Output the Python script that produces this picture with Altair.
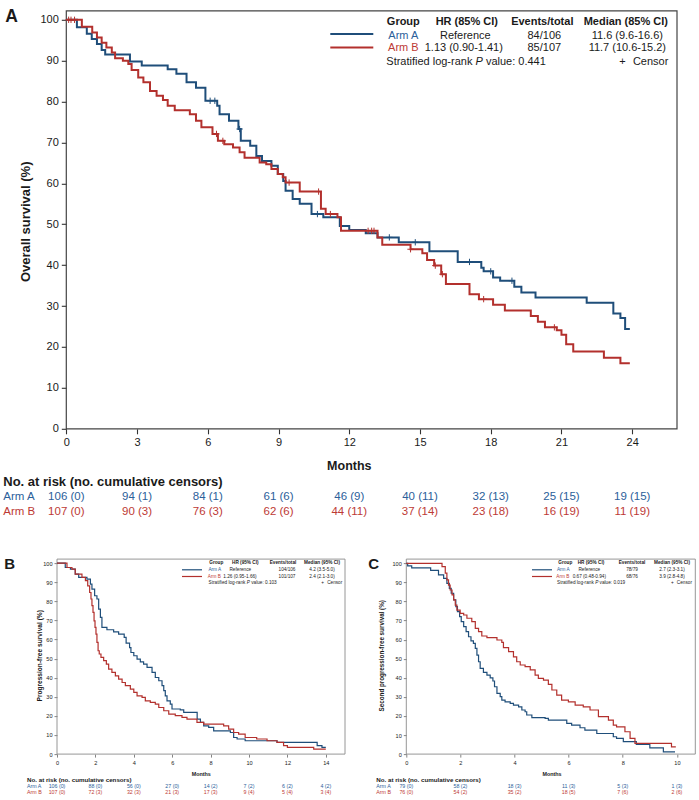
import altair as alt
import pandas as pd

FONT = "Liberation Sans"
BLUE, RED = "#1f4e7a", "#b3302d"
BLUE_T, RED_T = "#2b609a", "#bd3a35"
INK = "#1a1a1a"
CROSS = "M-1,0L1,0M0,-1L0,1"

# ---------------- Panel A: overall survival ----------------
os_a_t = [0, 0.45, 0.87, 1.08, 1.3, 1.5, 1.65, 2.7, 3.2, 4.3, 4.67, 5.1, 5.5, 5.9, 6.4, 6.5, 6.9, 7.3, 7.4, 7.8,
          8.06, 8.3, 8.7, 8.97, 9.2, 9.3, 9.6, 9.9, 10.4, 10.9, 11.6, 12.0, 12.7, 13.2, 14.1, 15.4, 16.6, 17.6, 17.7, 18.1,
          18.4, 19.0, 19.3, 19.9, 22.07, 23.2, 23.5, 23.7, 23.9]
os_a_s = [100, 98.2, 96.6, 95.3, 94.1, 92.6, 91.5, 89.8, 88.8, 87.9, 86.8, 84.7, 83.4, 80.2, 79.0, 76.9, 75.3, 73.3, 70.4, 69.2,
          66.7, 65.5, 64.3, 62.3, 60.6, 58.2, 56.2, 55.0, 52.5, 51.7, 49.6, 48.6, 47.8, 46.8, 45.6, 43.4, 40.8, 39.4, 38.5, 37.0,
          36.2, 34.7, 33.3, 32.1, 30.8, 28.2, 27.1, 24.4, 24.4]
os_b_t = [0, 0.66, 1.1, 1.3, 1.5, 1.7, 1.93, 2.07, 2.4, 2.63, 2.77, 3.05, 3.27, 3.55, 3.83, 4.1, 4.3, 4.6, 5.24, 5.5,
          5.73, 6.2, 6.43, 6.7, 7.07, 7.35, 7.56, 8.2, 8.48, 8.7, 8.97, 9.18, 9.3, 9.9, 10.8, 11.0, 11.5, 11.65, 13.2, 13.4,
          14.6, 15.1, 15.3, 15.6, 15.9, 16.1, 17.1, 17.5, 18.1, 18.6, 19.7, 20.0, 20.3, 20.8, 21.0, 21.2, 21.5, 22.8, 23.5, 23.9]
os_b_s = [100, 98.3, 96.9, 95.7, 94.4, 93.2, 92.0, 90.6, 90.0, 89.2, 87.7, 85.9, 84.7, 82.6, 81.4, 80.4, 79.0, 77.9, 76.9, 75.3,
          73.7, 72.1, 70.4, 69.6, 68.8, 67.6, 66.3, 65.1, 64.7, 63.5, 62.3, 61.5, 60.2, 58.0, 53.8, 52.5, 51.7, 48.4, 46.8, 45.0,
          43.9, 42.9, 41.3, 39.9, 37.8, 35.4, 32.9, 31.7, 30.3, 28.9, 27.6, 26.2, 24.8, 24.1, 23.0, 20.7, 18.9, 17.4, 16.0, 16.0]
os_cen_a_t = [6.1, 6.3, 7.35, 10.65, 13.7, 14.8, 17.1, 18.0, 18.9]
os_cen_a_s = [80.2, 80.2, 73.3, 52.5, 46.8, 45.6, 40.8, 38.5, 36.2]
os_cen_b_t = [0.1, 0.2, 0.35, 6.37, 6.64, 9.45, 10.7, 11.2, 12.8, 12.95, 13.05, 14.6, 15.65, 15.95, 17.7, 20.7]
os_cen_b_s = [100, 100, 100, 72.1, 70.4, 60.2, 58.0, 52.5, 48.4, 48.4, 48.4, 43.9, 39.9, 37.8, 31.7, 24.8]
os_risk_t = [0, 3, 6, 9, 12, 15, 18, 21, 24]
os_risk_a = ["106 (0)", "94 (1)", "84 (1)", "61 (6)", "46 (9)", "40 (11)", "32 (13)", "25 (15)", "19 (15)"]
os_risk_b = ["107 (0)", "90 (3)", "76 (3)", "62 (6)", "44 (11)", "37 (14)", "23 (18)", "16 (19)", "11 (19)"]
os_table = [["Group", "HR (85% CI)", "Events/total", "Median (85% CI)"],
            ["Arm A", "Reference", "84/106", "11.6 (9.6-16.6)"],
            ["Arm B", "1.13 (0.90-1.41)", "85/107", "11.7 (10.6-15.2)"]]
os_p = "0.441"

# ---------------- Panel B: progression-free survival ----------------
pfs_a_t = [0, 0.43, 0.7, 0.95, 1.13, 1.56, 1.74, 1.82, 1.96, 2.08, 2.17, 2.26, 2.34, 2.6, 2.95, 3.21, 3.5, 3.6, 3.78, 3.85,
           4.0, 4.17, 4.34, 4.51, 4.69, 4.95, 5.12, 5.3, 5.47, 5.56, 5.64, 5.73, 5.9, 5.99, 6.42, 6.6, 7.3, 7.47, 7.64, 7.9,
           8.16, 9.03, 9.2, 9.38, 9.8, 11.46, 13.55, 13.8, 14.0]
pfs_a_s = [100, 97.7, 96.9, 94.2, 92.5, 91.6, 89.0, 86.4, 82.9, 81.2, 75.9, 71.6, 66.3, 65.1, 64.0, 62.8, 61.1, 58.1, 55.8, 53.2,
           51.5, 49.7, 48.3, 47.1, 45.4, 42.8, 40.1, 38.4, 35.8, 33.2, 30.5, 27.9, 26.2, 23.6, 23.2, 21.8, 18.3, 16.6, 14.8, 14.0,
           12.2, 11.3, 8.7, 7.9, 7.0, 6.1, 4.4, 3.5, 3.5]
pfs_b_t = [0, 0.52, 0.78, 0.95, 1.3, 1.48, 1.6, 1.7, 1.77, 1.82, 1.875, 1.93, 1.98, 2.03, 2.08, 2.14, 2.2, 2.29, 2.43, 2.57,
           2.69, 2.86, 3.04, 3.21, 3.39, 3.56, 3.82, 4.0, 4.17, 4.43, 4.6, 4.86, 5.12, 5.3, 5.56, 5.82, 6.16, 6.51, 6.77, 7.29,
           7.64, 8.68, 8.94, 9.2, 9.46, 9.8, 10.4, 10.94, 11.46, 11.8, 12.0, 13.37, 14.0]
pfs_b_s = [100, 97.7, 96.9, 94.2, 92.5, 90.8, 88.1, 84.6, 81.2, 77.7, 74.2, 69.8, 66.3, 62.8, 58.5, 54.1, 52.4, 50.6, 48.9, 47.1,
           44.5, 42.8, 41.0, 39.3, 37.5, 35.8, 34.0, 32.3, 30.5, 29.7, 27.9, 27.1, 26.2, 24.4, 22.7, 20.9, 20.1, 19.2, 18.3, 16.6,
           15.7, 14.8, 13.1, 11.3, 10.5, 8.7, 7.9, 7.0, 6.1, 4.4, 3.5, 2.6, 2.6]
pfs_risk_t = [0, 2, 4, 6, 8, 10, 12, 14]
pfs_risk_a = ["106 (0)", "88 (0)", "56 (0)", "27 (0)", "14 (2)", "7 (2)", "6 (2)", "4 (2)"]
pfs_risk_b = ["107 (0)", "72 (3)", "32 (3)", "21 (3)", "17 (3)", "9 (4)", "5 (4)", "3 (4)"]
pfs_table = [["Group", "HR (95% CI)", "Events/total", "Median (95% CI)"],
             ["Arm A", "Reference", "104/106", "4.2 (3.5-5.0)"],
             ["Arm B", "1.26 (0.95-1.66)", "101/107", "2.4 (2.1-3.0)"]]
pfs_p = "0.103"

# ---------------- Panel C: second progression-free survival ----------------
pfs2_a_t = [0, 0.05, 0.2, 0.9, 1.19, 1.38, 1.5, 1.59, 1.66, 1.75, 1.83, 1.89, 1.97, 2.03, 2.12, 2.21, 2.3, 2.39, 2.48, 2.55,
            2.61, 2.67, 2.73, 2.85, 2.98, 3.1, 3.2, 3.26, 3.35, 3.47, 3.53, 3.65, 3.84, 3.96, 4.15, 4.27, 4.39, 4.45, 4.64, 5.13,
            5.25, 5.93, 6.11, 6.42, 6.6, 7.04, 7.65, 7.77, 8.02, 8.5, 9.0, 9.5, 9.93]
pfs2_a_s = [100, 98.7, 97.6, 96.3, 93.9, 92.1, 89.5, 86.9, 84.3, 80.8, 77.3, 74.7, 72.0, 69.4, 66.8, 64.2, 61.5, 59.3, 58.0, 55.4,
            51.9, 48.4, 44.9, 42.8, 41.4, 40.0, 38.3, 35.3, 31.8, 30.1, 28.3, 27.4, 26.6, 25.7, 24.8, 23.1, 22.2, 20.5, 19.1, 18.7,
            17.8, 16.1, 15.2, 13.8, 12.6, 10.8, 9.1, 8.2, 6.5, 5.1, 3.3, 1.2, 1.2]
pfs2_b_t = [0, 1.32, 1.44, 1.5, 1.56, 1.62, 1.69, 1.75, 1.81, 1.87, 1.99, 2.12, 2.24, 2.42, 2.55, 2.67, 2.79, 2.98, 3.35, 3.53,
            3.59, 3.78, 3.96, 4.08, 4.21, 4.39, 4.58, 4.76, 4.88, 5.07, 5.25, 5.38, 5.56, 5.74, 5.99, 6.24, 6.54, 6.79, 7.1, 7.47,
            7.65, 7.77, 8.08, 8.27, 8.45, 9.8, 9.96]
pfs2_b_s = [100, 98.3, 94.8, 91.3, 88.6, 86.0, 83.4, 80.8, 78.1, 75.5, 73.8, 72.9, 71.2, 69.4, 65.9, 64.2, 61.9, 61.0, 59.8, 58.6,
            55.8, 53.7, 51.0, 48.4, 46.7, 45.8, 44.1, 41.4, 39.7, 38.8, 36.5, 33.6, 30.9, 28.3, 27.4, 25.7, 24.8, 23.1, 19.6, 17.8,
            15.2, 14.3, 11.7, 8.2, 5.6, 3.8, 3.8]
pfs2_risk_t = [0, 2, 4, 6, 8, 10]
pfs2_risk_a = ["79 (0)", "58 (2)", "18 (3)", "11 (3)", "5 (3)", "1 (3)"]
pfs2_risk_b = ["76 (0)", "54 (2)", "35 (2)", "18 (5)", "7 (6)", "2 (6)"]
pfs2_table = [["Group", "HR (95% CI)", "Events/total", "Median (95% CI)"],
              ["Arm A", "Reference", "78/79", "2.7 (2.3-3.1)"],
              ["Arm B", "0.67 (0.48-0.94)", "68/76", "3.9 (2.8-4.8)"]]
pfs2_p = "0.019"

ONE = pd.DataFrame({"k": [0]})


def arms_df(ta, sa, tb, sb):
    return pd.DataFrame({"t": list(ta) + list(tb), "s": list(sa) + list(sb),
                         "arm": ["Arm A"] * len(ta) + ["Arm B"] * len(tb)})


def text_layer(s, x, y, size, color=INK, align="left", bold=False, italic=False, baseline="middle", angle=None):
    kw = dict(text=s, font=FONT, fontSize=size, color=color, align=align, baseline=baseline,
              fontWeight="bold" if bold else "normal", fontStyle="italic" if italic else "normal")
    if angle is not None:
        kw["angle"] = angle
    return alt.Chart(ONE).mark_text(**kw).encode(x=alt.value(x), y=alt.value(y))


def km_panel(p):
    ox, oy = p["origin"]
    W, H = p["size"]
    L = p["left"]

    def rx(v):
        return v - ox

    def ry(v):
        return v - oy

    xs = alt.Scale(domain=p["xdom"], nice=False, zero=False)
    ys = alt.Scale(domain=[0, p["ymax"]], nice=False)
    xaxis = alt.Axis(values=p["xticks"], title=None, domain=False, grid=False,
                     tickSize=p["tick"], tickColor=p["axc"], tickWidth=p["tickw"],
                     labelFont=FONT, labelFontSize=p["tickfont"], labelColor=INK,
                     labelPadding=p["xpad"], labelFlush=False, labelOverlap=False)
    yargs = dict(values=list(range(0, 101, 10)), title=None, domain=False, grid=False,
                 tickSize=p["tick"], tickColor=p["axc"], tickWidth=p["tickw"],
                 labelFont=FONT, labelFontSize=p["tickfont"], labelColor=INK,
                 labelPadding=p["ypad"], labelFlush=False, labelOverlap=False)
    if L > 0:
        yargs["offset"] = -L
    X = alt.X("t:Q", scale=xs, axis=xaxis)
    Y = alt.Y("s:Q", scale=ys, axis=alt.Axis(**yargs))
    COL = alt.Color("arm:N", scale=alt.Scale(domain=["Arm A", "Arm B"], range=[BLUE, RED]), legend=None)

    layers = []
    layers.append(alt.Chart(ONE).mark_rect(fillOpacity=0, stroke=p["framec"], strokeWidth=p["framew"]).encode(
        x=alt.value(L), x2=alt.value(W), y=alt.value(0), y2=alt.value(H)))
    layers.append(alt.Chart(p["curves"]).mark_line(interpolate="step-after", strokeWidth=p["lw"]).encode(
        x=X, y=Y, color=COL))
    if p.get("censors") is not None:
        layers.append(alt.Chart(p["censors"]).mark_point(shape=CROSS, filled=False, size=p["censize"],
                                                         strokeWidth=1, opacity=1).encode(x=X, y=Y, color=COL))

    # panel letter
    layers.append(text_layer(p["letter"], rx(p["letter_xy"][0]), ry(p["letter_xy"][1]), p["letter_size"],
                             bold=True, baseline="top"))
    # axis titles
    layers.append(text_layer(p["ytitle"], rx(p["ytitle_xy"][0]), ry(p["ytitle_xy"][1]), p["titlefont"],
                             bold=True, align="center", angle=270))
    layers.append(text_layer("Months", rx(p["xtitle_xy"][0]), ry(p["xtitle_xy"][1]), p["xtitlefont"],
                             bold=True, align="center"))

    # number at risk table
    rk = p["risk"]
    layers.append(text_layer("No. at risk (no. cumulative censors)", rx(rk["x"]), ry(rk["head_y"]),
                             rk["head_font"], bold=True))
    for lab, vals, yy, col in (("Arm A", p["risk_a"], rk["ya"], BLUE_T), ("Arm B", p["risk_b"], rk["yb"], RED_T)):
        df = pd.DataFrame({"t": p["risk_t"], "label": vals})
        layers.append(alt.Chart(df).mark_text(font=FONT, fontSize=rk["font"], color=col, align="center",
                                              baseline="middle").encode(x=X, y=alt.value(ry(yy)), text="label:N"))
        layers.append(text_layer(lab, rx(rk["x"]), ry(yy), rk["font"], color=col))

    # legend block
    lg = p["legend"]
    tbl = p["table"]
    fs = lg["font"]
    for j, s in enumerate(tbl[0]):
        layers.append(text_layer(s, rx(lg["head_x"][j]), ry(lg["ys"][0]), fs, bold=True, align="center"))
    for i, (xs_row, col) in enumerate(((lg["a_x"], BLUE_T), (lg["b_x"], RED_T))):
        row = tbl[i + 1]
        for j, s in enumerate(row):
            layers.append(text_layer(s, rx(xs_row[j]), ry(lg["ys"][i + 1]), fs,
                                     color=col if j == 0 else INK, align="center"))
    for yy, col in ((lg["line_y"][0], BLUE), (lg["line_y"][1], RED)):
        layers.append(alt.Chart(ONE).mark_rule(color=col, strokeWidth=p["lw"]).encode(
            x=alt.value(rx(lg["line_x"][0])), x2=alt.value(rx(lg["line_x"][1])), y=alt.value(ry(yy))))
    sx, sy = lg["strat_xy"]
    layers.append(text_layer("Stratified log-rank", rx(sx), ry(sy), fs))
    layers.append(text_layer("P", rx(sx + 8.114 * fs), ry(sy), fs, italic=True))
    layers.append(text_layer("value: " + p["pval"], rx(sx + 9.06 * fs), ry(sy), fs))
    cx = lg["censor_x"]
    layers.append(text_layer("Censor", rx(cx), ry(sy), fs, align="right"))
    layers.append(text_layer("+", rx(cx - 3.223 * fs - 0.95 * fs), ry(sy), fs, align="center"))

    return alt.layer(*layers).properties(width=W, height=H)


PA = dict(
    origin=(56.7, 10), size=(620, 418), left=9.3, xdom=[-0.394, 25.9], ymax=102.2,
    xticks=os_risk_t, tick=5, axc="#333", tickw=1.1, tickfont=11, xpad=3, ypad=3,
    framec="#444", framew=1.2, lw=2, censize=40,
    curves=arms_df(os_a_t, os_a_s, os_b_t, os_b_s),
    censors=arms_df(os_cen_a_t, os_cen_a_s, os_cen_b_t, os_cen_b_s),
    letter="A", letter_xy=(5, 6.8), letter_size=17.5,
    ytitle="Overall survival (%)", ytitle_xy=(26, 221), titlefont=13,
    xtitle_xy=(349, 465), xtitlefont=12.5,
    risk=dict(x=3, head_y=481, ya=496.5, yb=511.5, head_font=13, font=11.5),
    risk_t=os_risk_t, risk_a=os_risk_a, risk_b=os_risk_b,
    table=os_table, pval=os_p,
    legend=dict(font=11, head_x=[403, 466.5, 542, 625.5], a_x=[403, 465, 544, 627], b_x=[403, 463.5, 544, 627],
                ys=[21, 35, 47.7], line_x=[330, 373], line_y=[33.3, 46.7], strat_xy=(386, 61), censor_x=668),
)

PB = dict(
    origin=(56.7, 558.3), size=(288, 195), left=0, xdom=[0, 15.0], ymax=102.1,
    xticks=pfs_risk_t, tick=3, axc="#666", tickw=0.8, tickfont=5.6, xpad=3, ypad=2,
    framec="#8a8a8a", framew=0.9, lw=1.2, censize=12,
    curves=arms_df(pfs_a_t, pfs_a_s, pfs_b_t, pfs_b_s), censors=None,
    letter="B", letter_xy=(4, 556.3), letter_size=15,
    ytitle="Progression-free survival (%)", ytitle_xy=(39.3, 655), titlefont=6.6,
    xtitle_xy=(201, 773), xtitlefont=5.4,
    risk=dict(x=26.7, head_y=779.5, ya=785.5, yb=791.0, head_font=6.2, font=5.3),
    risk_t=pfs_risk_t, risk_a=pfs_risk_a, risk_b=pfs_risk_b,
    table=pfs_table, pval=pfs_p,
    legend=dict(font=4.7, head_x=[216, 245, 282.7, 321.7], a_x=[214.5, 240, 286.7, 321.7], b_x=[214, 239.7, 286.7, 321.7],
                ys=[562.3, 569.3, 576, 582.3], line_x=[181.7, 201.7], line_y=[569, 575.7], strat_xy=(208.3, 582.3),
                censor_x=342),
)

PC = dict(
    origin=(406, 558.3), size=(289, 195), left=0, xdom=[0, 10.68], ymax=102.2,
    xticks=pfs2_risk_t, tick=3, axc="#666", tickw=0.8, tickfont=5.6, xpad=3, ypad=2,
    framec="#8a8a8a", framew=0.9, lw=1.2, censize=12,
    curves=arms_df(pfs2_a_t, pfs2_a_s, pfs2_b_t, pfs2_b_s), censors=None,
    letter="C", letter_xy=(368, 556.3), letter_size=15,
    ytitle="Second progression-free survival (%)", ytitle_xy=(381.7, 655), titlefont=6.3,
    xtitle_xy=(551.7, 773), xtitlefont=5.4,
    risk=dict(x=376, head_y=779.5, ya=785.5, yb=791.0, head_font=6.2, font=5.3),
    risk_t=pfs2_risk_t, risk_a=pfs2_risk_a, risk_b=pfs2_risk_b,
    table=pfs2_table, pval=pfs2_p,
    legend=dict(font=4.7, head_x=[565, 590.7, 631.7, 671.7], a_x=[563, 589, 631.7, 671.7], b_x=[562.5, 589, 631.7, 671.7],
                ys=[562.3, 569.3, 576, 582.3], line_x=[531.7, 551.7], line_y=[569, 575.7], strat_xy=(556.7, 582.3),
                censor_x=691.7),
)

A = km_panel(PA)
B = km_panel(PB)
C = km_panel(PC)

row = alt.hconcat(B, C, spacing=61.3, bounds="flush")
chart = alt.vconcat(A, row, spacing=130.3, bounds="flush").properties(
    padding={"left": 3, "top": 6.8, "right": 0, "bottom": 0}
).configure_view(strokeWidth=0)

chart.save("out.html", embed_options={"renderer": "svg", "actions": False})
